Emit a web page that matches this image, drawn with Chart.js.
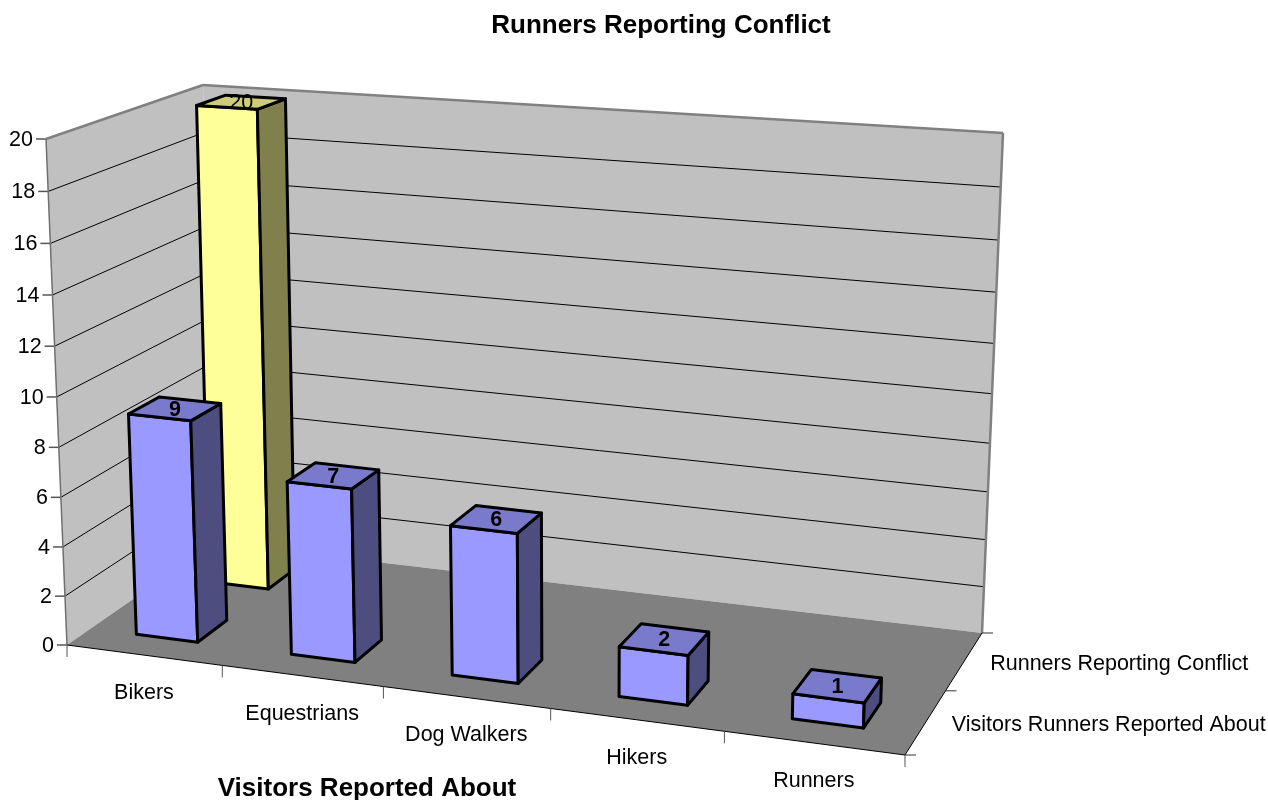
<!DOCTYPE html>
<html>
<head>
<meta charset="utf-8">
<title>Runners Reporting Conflict</title>
<script src="https://cdn.jsdelivr.net/npm/chart.js@4"></script>
<style>
    body { margin: 0; background: #fff; }
    canvas { display: block; }
</style>
</head>
<body>
<canvas id="conflitos" width="1268" height="800"></canvas>
<script>
// Dados do gráfico
var categorias = ["Bikers", "Equestrians", "Dog Walkers", "Hikers", "Runners"];
var nomesSeries = ["Runners Reporting Conflict", "Visitors Runners Reported About"];
var corredoresConflito = [20, null, null, null, null];
var visitantesReportados = [9, 7, 6, 2, 1];
var tituloGrafico = "Runners Reporting Conflict";
var tituloEixoX = "Visitors Reported About";
var valorMaximo = 20;
var passoEixoY = 2;

// Cantos da caixa 3D na tela: chão e teto (frente-esq, frente-dir, fundo-dir, fundo-esq)
var cantosChao = [[67, 645], [905, 755], [982, 633], [214, 543]];
var cantosTeto = [[46, 139], [923, 199], [1003, 133], [203, 85]];
var perspectivaAltura = 1.04;
var perspectivaLado = 0.05;
var fonte = '"Liberation Sans", Arial, sans-serif';

// Cores de cada série: frente, topo e lateral
var coresSeries = [
    { frente: '#FFFF99', topo: '#CCCC7A', lado: '#80804D' },
    { frente: '#9999FF', topo: '#7A7ACC', lado: '#4D4D80' }
];

// Homografia do quadrado unitário para um quadrilátero
function criaHomografia(q) {
    var x0 = q[0][0], y0 = q[0][1], x1 = q[1][0], y1 = q[1][1];
    var x2 = q[2][0], y2 = q[2][1], x3 = q[3][0], y3 = q[3][1];
    var dx1 = x1 - x2, dx2 = x3 - x2, sx = x0 - x1 + x2 - x3;
    var dy1 = y1 - y2, dy2 = y3 - y2, sy = y0 - y1 + y2 - y3;
    var d = dx1 * dy2 - dx2 * dy1;
    var g = (sx * dy2 - dx2 * sy) / d;
    var h = (dx1 * sy - sx * dy1) / d;
    return function(u, v) {
        var w = g * u + h * v + 1;
        return [
            ((x1 - x0 + g * x1) * u + (x3 - x0 + h * x3) * v + x0) / w,
            ((y1 - y0 + g * y1) * u + (y3 - y0 + h * y3) * v + y0) / w
        ];
    };
}

var noChao = criaHomografia(cantosChao);
var noTeto = criaHomografia(cantosTeto);

// Projeta (u: categoria, v: profundidade, a: altura), todos de 0 a 1
function projeta(u, v, a) {
    var p = noChao(u, v), t = noTeto(u, v);
    var c = perspectivaAltura + perspectivaLado * u;
    var k = a / (c - (c - 1) * a);
    return [p[0] + (t[0] - p[0]) * k, p[1] + (t[1] - p[1]) * k];
}

function poligono(ctx, pontos, cor, corLinha, larguraLinha) {
    ctx.beginPath();
    pontos.forEach(function(p, i) {
        if (i === 0) ctx.moveTo(p[0], p[1]); else ctx.lineTo(p[0], p[1]);
    });
    ctx.closePath();
    if (cor) { ctx.fillStyle = cor; ctx.fill(); }
    if (corLinha) {
        ctx.strokeStyle = corLinha;
        ctx.lineWidth = larguraLinha;
        ctx.lineJoin = 'round';
        ctx.stroke();
    }
}

function linha(ctx, a, b, cor, largura) {
    ctx.beginPath();
    ctx.moveTo(a[0], a[1]);
    ctx.lineTo(b[0], b[1]);
    ctx.strokeStyle = cor;
    ctx.lineWidth = largura;
    ctx.stroke();
}

function texto(ctx, conteudo, x, y, alinhamento, peso) {
    ctx.font = peso + ' 21.5px ' + fonte;
    ctx.fillStyle = '#000';
    ctx.textAlign = alinhamento;
    ctx.textBaseline = 'middle';
    ctx.fillText(conteudo, x, y);
}

// Paredes, chão, grade e eixos
function desenhaCaixa(chart) {
    var ctx = chart.ctx;
    var escalaY = chart.scales.y, area = chart.chartArea;

    poligono(ctx, [projeta(0, 0, 0), projeta(0, 0, 1), projeta(0, 1, 1), projeta(0, 1, 0)], '#C0C0C0');
    poligono(ctx, [projeta(0, 1, 0), projeta(0, 1, 1), projeta(1, 1, 1), projeta(1, 1, 0)], '#C0C0C0');
    poligono(ctx, [projeta(0, 0, 0), projeta(1, 0, 0), projeta(1, 1, 0), projeta(0, 1, 0)], '#808080');

    escalaY.ticks.forEach(function(tick) {
        var a = (area.bottom - escalaY.getPixelForValue(tick.value)) / area.height;
        var frente = projeta(0, 0, a);
        if (tick.value > 0 && tick.value < valorMaximo) {
            var fundo = projeta(0, 1, a);
            linha(ctx, frente, fundo, '#000', 1);
            linha(ctx, fundo, projeta(1, 1, a), '#000', 1);
        }
        linha(ctx, [frente[0] - 10, frente[1]], frente, '#555', 1.5);
        texto(ctx, String(tick.value), frente[0] - 13, frente[1] + 1, 'right', 'normal');
    });

    // Bordas das paredes
    linha(ctx, projeta(0, 0, 0), projeta(0, 0, 1), '#707070', 1.5);
    linha(ctx, projeta(0, 0, 1), projeta(0, 1, 1), '#808080', 2.5);
    linha(ctx, projeta(0, 1, 1), projeta(1, 1, 1), '#808080', 2.5);
    linha(ctx, projeta(1, 1, 1), projeta(1, 1, 0), '#808080', 2.5);
    linha(ctx, projeta(0, 0, 0), projeta(1, 0, 0), '#000', 1);
    linha(ctx, projeta(1, 0, 0), projeta(1, 1, 0), '#000', 1);

    // Marcas e rótulos do eixo X
    var nomes = chart.scales.x.getLabels();
    for (var i = 0; i <= nomes.length; i++) {
        var p = projeta(i / nomes.length, 0, 0);
        linha(ctx, p, [p[0], p[1] + 12], '#555', 1);
        if (i < nomes.length) {
            var meio = projeta((i + 0.5) / nomes.length, 0, 0);
            texto(ctx, nomes[i], meio[0], meio[1] + 38, 'center', 'normal');
        }
    }

    // Marcas e rótulos de profundidade
    var linhas = chart.data.datasets.length;
    for (var j = 0; j <= linhas; j++) {
        var q = projeta(1, j / linhas, 0);
        linha(ctx, q, [q[0] + 11, q[1]], '#333', 1);
    }
    chart.data.datasets.forEach(function(ds, d) {
        var c = projeta(1, (linhas - d - 0.5) / linhas, 0);
        texto(ctx, ds.label, c[0] + 26, c[1] + 3, 'left', 'normal');
    });

    ctx.font = 'bold 26px ' + fonte;
    ctx.textAlign = 'center';
    ctx.textBaseline = 'middle';
    ctx.fillStyle = '#000';
    ctx.fillText(tituloEixoX, 367, 789);
}

// Cada barra vem dos elementos e escalas do Chart.js e é projetada na caixa
function desenhaBarras(chart) {
    var ctx = chart.ctx, area = chart.chartArea;
    var linhas = chart.data.datasets.length;
    chart.data.datasets.forEach(function(ds, d) {
        var cores = coresSeries[d];
        var meta = chart.getDatasetMeta(d);
        var vCentro = (linhas - d - 0.5) / linhas;
        var vMeio = ds.profundidade / linhas / 2;
        meta.data.forEach(function(barra, i) {
            if (ds.data[i] === null) return;
            var u0 = (barra.x - barra.width / 2 - area.left) / area.width;
            var u1 = (barra.x + barra.width / 2 - area.left) / area.width;
            var a = (area.bottom - barra.y) / area.height;
            var v0 = vCentro - vMeio, v1 = vCentro + vMeio;

            poligono(ctx, [projeta(u0, v0, 0), projeta(u1, v0, 0), projeta(u1, v0, a), projeta(u0, v0, a)], cores.frente, '#000', 3);
            poligono(ctx, [projeta(u1, v0, 0), projeta(u1, v1, 0), projeta(u1, v1, a), projeta(u1, v0, a)], cores.lado, '#000', 3);
            poligono(ctx, [projeta(u0, v0, a), projeta(u1, v0, a), projeta(u1, v1, a), projeta(u0, v1, a)], cores.topo, '#000', 3);

            var c = projeta((u0 + u1) / 2, vCentro, a);
            texto(ctx, String(ds.data[i]), c[0], c[1] + 1, 'center', d === 1 ? 'bold' : 'normal');
        });
    });
}

var caixa3d = {
    id: 'caixa3d',
    beforeDatasetsDraw: function(chart) {
        desenhaCaixa(chart);
        desenhaBarras(chart);
    }
};

var ctx = document.getElementById('conflitos').getContext('2d');

var graficoConflitos = new Chart(ctx, {
    type: 'bar',
    data: {
        labels: categorias,
        datasets: [{
            label: nomesSeries[0],
            data: corredoresConflito,
            grouped: false,
            profundidade: 0.4,
            backgroundColor: 'transparent'
        }, {
            label: nomesSeries[1],
            data: visitantesReportados,
            grouped: false,
            profundidade: 0.4,
            backgroundColor: 'transparent'
        }]
    },
    options: {
        responsive: false,
        animation: false,
        barPercentage: 0.4,
        categoryPercentage: 1,
        layout: { padding: { left: 54, top: 10, bottom: 155, right: 0 } },
        scales: {
            x: { display: false },
            y: {
                display: false,
                min: 0,
                max: valorMaximo,
                ticks: { stepSize: passoEixoY }
            }
        },
        plugins: {
            legend: { display: false },
            tooltip: { enabled: false },
            title: {
                display: true,
                text: tituloGrafico,
                fullSize: false,
                color: '#000',
                font: { family: fonte, size: 26, weight: 'bold' },
                padding: { top: 0, bottom: 98 }
            }
        }
    },
    plugins: [caixa3d]
});
</script>
</body>
</html>
